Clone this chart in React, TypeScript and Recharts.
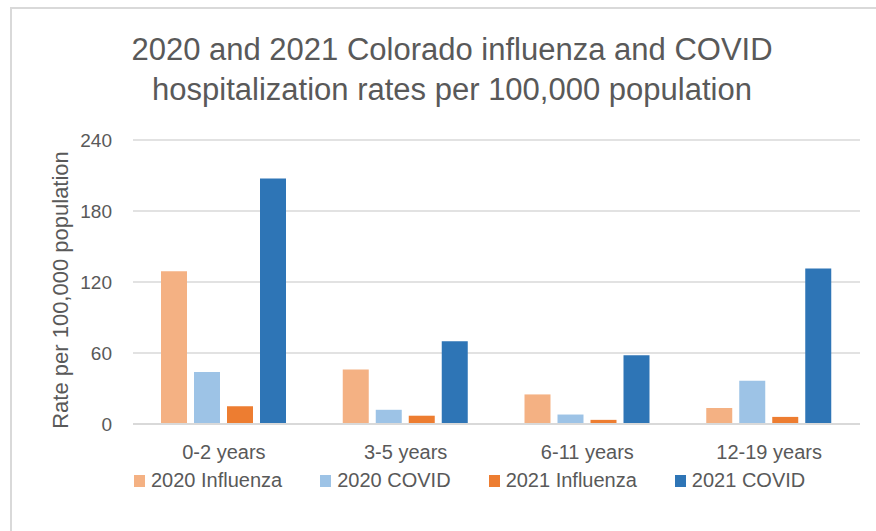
import { BarChart, Bar, XAxis, YAxis, CartesianGrid, Legend } from 'recharts'

const categories = ['0-2 years', '3-5 years', '6-11 years', '12-19 years']
const flu2020 = [129, 46, 25, 13.5]
const covid2020 = [44, 12, 8, 36.5]
const flu2021 = [15, 7, 3.5, 6]
const covid2021 = [207.5, 70, 58, 131.5]
const yTicks = [0, 60, 120, 180, 240]

const SERIES = [
    { key: 'flu2020', name: '2020 Influenza', color: '#F4B183' },
    { key: 'covid2020', name: '2020 COVID', color: '#9DC3E6' },
    { key: 'flu2021', name: '2021 Influenza', color: '#ED7D31' },
    { key: 'covid2021', name: '2021 COVID', color: '#2E75B6' },
]

const data = categories.map((c, i) => ({
    age: c,
    flu2020: flu2020[i],
    covid2020: covid2020[i],
    flu2021: flu2021[i],
    covid2021: covid2021[i],
}))

const FONT = "'Liberation Sans', Arial, sans-serif"
const TEXT = '#595959'

// legend drawn like Excel's: small squares, wide gaps, left aligned under the axis
const renderLegend = () => (
    <div style={{ display: 'flex', gap: 38, paddingLeft: 134, fontFamily: FONT, fontSize: 20, color: TEXT }}>
        {SERIES.map(s => (
            <div key={s.key} style={{ display: 'flex', alignItems: 'center' }}>
                <span style={{ width: 11, height: 12, background: s.color, marginRight: 6, display: 'inline-block' }} />
                <span>{s.name}</span>
            </div>
        ))}
    </div>
)

export default function App() {
    return (
        <div style={{ position: 'fixed', left: 0, top: 0, width: 876, height: 531, background: '#fff', overflow: 'hidden' }}>
            {/* grey frame of the cropped chart area */}
            <div style={{ position: 'absolute', left: 10, top: 7, right: -10, bottom: -10, borderLeft: '2px solid #D9D9D9', borderTop: '2px solid #D9D9D9' }} />
            <div style={{ position: 'absolute', left: 0, width: 904, top: 30, textAlign: 'center', fontFamily: FONT, fontSize: 31, color: TEXT, lineHeight: '40px' }}>
                2020 and 2021 Colorado influenza and COVID<br />
                hospitalization rates per 100,000 population
            </div>
            <div style={{ position: 'absolute', left: 0, top: 0 }}>
                <BarChart width={876} height={531} data={data} margin={{ top: 140, right: 16, left: 0, bottom: 0 }} barSize={26} barGap={7}>
                    <CartesianGrid vertical={false} stroke="#D9D9D9" strokeWidth={1.5} />
                    <XAxis
                        dataKey="age"
                        height={107}
                        tickLine={false}
                        tickSize={0}
                        tickMargin={21}
                        axisLine={{ stroke: '#D9D9D9', strokeWidth: 2 }}
                        tick={{ fill: TEXT, fontSize: 20, fontFamily: FONT }}
                    />
                    <YAxis
                        width={133}
                        domain={[0, 240]}
                        ticks={yTicks}
                        axisLine={false}
                        tickLine={false}
                        tickSize={0}
                        tickMargin={21}
                        tick={{ fill: TEXT, fontSize: 19, fontFamily: FONT }}
                        label={{ value: 'Rate per 100,000 population', angle: -90, position: 'insideLeft', dx: 55, dy: 8, style: { textAnchor: 'middle', fill: TEXT, fontSize: 22, fontFamily: FONT } }}
                    />
                    <Legend
                        layout="horizontal"
                        verticalAlign="middle"
                        align="center"
                        content={renderLegend}
                        wrapperStyle={{ top: 469, left: 0, width: 876 }}
                    />
                    {SERIES.map(s => (
                        <Bar key={s.key} dataKey={s.key} name={s.name} fill={s.color} isAnimationActive={false} />
                    ))}
                </BarChart>
            </div>
        </div>
    )
}
